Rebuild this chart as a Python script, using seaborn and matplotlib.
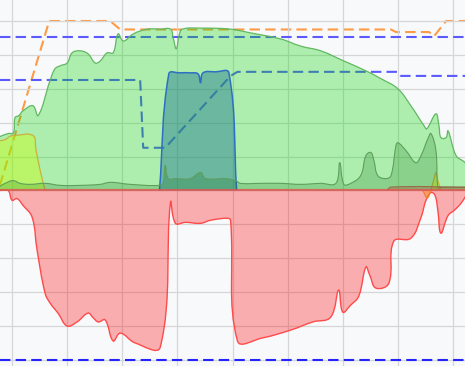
import numpy as np
import pandas as pd
import matplotlib
matplotlib.use("Agg")
import matplotlib.pyplot as plt
from matplotlib.path import Path
from matplotlib.patches import PathPatch
import seaborn as sns

# ---------------- data (hours of day, kW) ----------------
solar_t = [5.56, 5.86, 6.05, 6.11, 6.25, 6.40, 6.76, 6.95, 7.38, 7.56, 7.75, 8.00, 8.18,
           8.47, 8.76, 9.02, 9.20, 9.45, 9.67, 9.85, 10.04, 10.40, 10.91, 11.38, 11.75,
           11.85, 11.96, 12.07, 12.18, 12.84, 13.93, 14.65, 15.75, 16.47, 17.20, 18.04,
           18.84, 19.38, 20.00, 20.47, 20.95, 21.05, 21.38, 21.49, 21.56, 21.75, 21.82,
           22.11, 22.40, 22.47]
solar_v = [1.59, 1.68, 1.70, 2.15, 2.21, 2.35, 2.50, 2.21, 3.24, 3.59, 3.68, 3.76, 4.06,
           4.12, 4.03, 3.76, 3.82, 4.06, 4.06, 4.62, 4.41, 4.62, 4.76, 4.76, 4.76,
           4.50, 4.18, 4.60, 4.76, 4.79, 4.76, 4.65, 4.47, 4.26, 4.12, 3.82,
           3.53, 3.30, 3.00, 2.50, 1.91, 1.82, 2.26, 1.91, 1.56, 1.56, 1.76,
           1.03, 0.85, 0.79]

self_t = [5.56, 5.75, 6.04, 6.29, 6.65, 7.20, 7.75, 8.47, 9.20, 9.56, 10.29, 11.38, 11.49,
          11.56, 11.67, 11.93, 12.47, 12.84, 13.02, 13.75, 14.11, 14.29, 15.02, 15.75,
          16.47, 17.20, 17.75, 17.89, 18.04, 18.29, 18.65, 18.84, 19.02, 19.13, 19.27,
          19.56, 19.75, 19.93, 20.00, 20.29, 20.65, 20.84, 21.09, 21.20, 21.38, 21.45,
          21.56, 22.47]
self_v = [0.12, 0.21, 0.29, 0.21, 0.18, 0.21, 0.15, 0.15, 0.18, 0.24, 0.18, 0.15, 0.24,
          0.74, 0.35, 0.35, 0.35, 0.53, 0.35, 0.35, 0.29, 0.21, 0.21, 0.21,
          0.18, 0.21, 0.21, 0.82, 0.18, 0.21, 0.44, 1.03, 1.12, 0.88, 0.44,
          0.35, 0.44, 1.32, 1.41, 1.18, 0.82, 1.03, 1.53, 1.68, 1.18, 0.09,
          0.09, 0.09]

charge_t = [11.35, 11.69, 12.11, 12.47, 12.75, 12.84, 12.93, 13.38, 13.87, 14.15]
charge_v = [0.0, 3.44, 3.47, 3.47, 3.44, 3.18, 3.47, 3.50, 3.47, 0.0]

grid_am_t = [5.56, 5.75, 5.93, 6.04, 6.76, 6.87, 7.02, 7.20]
grid_am_v = [1.47, 1.50, 1.60, 1.62, 1.62, 1.20, 0.60, 0.0]
grid_pm_t = [21.20, 21.33, 21.38, 21.45, 21.56]
grid_pm_v = [0.0, 0.40, 0.53, 0.30, 0.0]

export_t = [19.60, 19.75, 22.47]
export_v = [0.0, 0.10, 0.10]

dis_t = [20.90, 21.07, 21.20]
dis_v = [0.0, -0.22, 0.0]

load_t = [5.56, 5.86, 6.00, 6.18, 6.40, 6.73, 6.91, 7.20, 7.38, 7.67, 8.00, 8.36, 8.76,
          8.95, 9.13, 9.38, 9.67, 9.93, 10.47, 11.38, 11.75, 11.93, 12.29, 12.84,
          13.20, 13.82, 13.93, 14.18, 15.09, 16.11, 16.91, 17.56, 17.85, 18.00, 18.29,
          18.58, 18.84, 18.98, 19.20, 19.67, 19.85, 20.47, 20.84, 21.02, 21.20, 21.35,
          21.45, 21.56, 21.82, 22.04, 22.29, 22.47]
load_v = [0.0, 0.0, -0.29, -0.24, -0.44, -0.79, -1.76, -3.03, -3.32, -3.62, -4.00, -3.88,
          -3.62, -3.76, -3.88, -3.82, -4.44, -4.21, -4.50, -4.62, -0.35, -0.97, -0.94,
          -0.97, -0.88, -0.82, -0.88, -4.44, -4.35, -4.12, -3.88, -3.74, -2.94, -3.59,
          -3.38, -3.12, -2.26, -2.50, -2.88, -2.74, -1.50, -1.41, -0.79, -0.29, -0.06,
          -0.15, -0.59, -1.26, -0.74, -0.59, -0.38, -0.15]

soc_t = [5.56, 7.35, 9.56, 9.93, 19.75, 19.93, 21.13, 21.31, 21.75, 22.47]
soc_v = [3, 100, 100, 95, 95, 93.5, 93.5, 91, 100, 100]

limit_t = [5.56, 10.65, 10.76, 11.56, 13.93, 14.18, 20.00, 20.11, 22.47]
limit_v = [3.26, 3.26, 1.26, 1.26, 3.38, 3.50, 3.50, 3.38, 3.38]

max_t = [5.56, 22.47]
max_v = [4.53, 4.53]
min_v = [-5.0, -5.0]

grid_hours = [6, 8, 10, 12, 14, 16, 18, 20, 22]
grid_kw = [-5, -4, -3, -2, -1, 0, 1, 2, 3, 4, 5]

# ---------------- figure ----------------
sns.set_theme(style="whitegrid")
bg = "#f8f9fb"
fig = plt.figure(figsize=(4.65, 3.66), dpi=100)
fig.patch.set_facecolor(bg)
ax = fig.add_axes([0, 0, 1, 1])
ax.set_facecolor(bg)
ax.set_xlim(5.565, 22.435)
ax.set_ylim(-5.18, 5.62)
ax.set_xticks(grid_hours)
ax.set_yticks(grid_kw)
ax.tick_params(length=0, labelbottom=False, labelleft=False)
ax.grid(True, color="#d6d6d6", lw=0.9)
ax.set_axisbelow(True)
for s in ax.spines.values():
    s.set_visible(False)

dash = (5, 2.5)

# dashed reference lines first (the fills are drawn over them)
sns.lineplot(x=max_t, y=max_v, ax=ax, color="#5a5aff", lw=1.5,
             estimator=None, zorder=1.5).lines[-1].set_dashes(dash)
sns.lineplot(x=max_t, y=min_v, ax=ax, color="#2424ff", lw=1.5,
             estimator=None, zorder=1.5).lines[-1].set_dashes(dash)
sns.lineplot(x=limit_t, y=limit_v, ax=ax, color="#5a5aff", lw=1.5,
             estimator=None, zorder=1.5, sort=False).lines[-1].set_dashes(dash)

# battery state of charge on a percent axis (100 % = 5 kW grid line)
ax2 = ax.twinx()
ax2.set_position(ax.get_position())
ax2.set_ylim(-5.18 * 20, 5.62 * 20)
ax2.set_axis_off()
ax2.set_zorder(0)
ax.set_zorder(1)
ax.patch.set_visible(False)
sns.lineplot(x=soc_t, y=soc_v, ax=ax2, color="#ff9a45", lw=1.5,
             estimator=None, sort=False).lines[-1].set_dashes(dash)
ax2.set_xlim(ax.get_xlim())

TENSION = 0.4


def smooth_path(t, v):
    """Chart.js-style spline through the data points (control points only)."""
    pts = ax.transData.transform(np.column_stack([t, v]))
    n = len(pts)
    cp_in = np.zeros_like(pts)
    cp_out = np.zeros_like(pts)
    for i in range(n):
        prev = pts[max(i - 1, 0)]
        cur = pts[i]
        nxt = pts[min(i + 1, n - 1)]
        d01 = np.hypot(*(cur - prev))
        d12 = np.hypot(*(nxt - cur))
        tot = d01 + d12
        s01 = d01 / tot if tot > 0 else 0
        s12 = d12 / tot if tot > 0 else 0
        cp_in[i] = cur - TENSION * s01 * (nxt - prev)
        cp_out[i] = cur + TENSION * s12 * (nxt - prev)
    verts = [pts[0]]
    codes = [Path.MOVETO]
    for i in range(n - 1):
        verts += [cp_out[i], cp_in[i + 1], pts[i + 1]]
        codes += [Path.CURVE4] * 3
    verts = ax.transData.inverted().transform(np.array(verts))
    return verts, codes


def area(t, v, fill, alpha, edge, lw, z):
    verts, codes = smooth_path(t, v)
    fv = np.vstack([[t[0], 0.0], verts, [t[-1], 0.0], [t[0], 0.0]])
    fc = [Path.MOVETO, Path.LINETO] + codes[1:] + [Path.LINETO, Path.CLOSEPOLY]
    ax.add_patch(PathPatch(Path(fv, fc), facecolor=fill, alpha=alpha, lw=0,
                           zorder=z, transform=ax.transData))
    ax.add_patch(PathPatch(Path(verts, codes), facecolor="none", edgecolor=edge,
                           lw=lw, zorder=z + 0.05, transform=ax.transData))


area(load_t, load_v, "#ff0000", 0.30, "#ff4a4a", 1.0, 2)
area(solar_t, solar_v, "#00d700", 0.30, "#62b862", 0.9, 2.2)
area(charge_t, charge_v, "#2a8190", 0.5, "#2e6fc4", 1.1, 2.4)
area(grid_am_t, grid_am_v, "#ccff00", 0.40, "#c9b13c", 0.9, 2.6)
area(grid_pm_t, grid_pm_v, "#ccff00", 0.40, "#c9b13c", 0.9, 2.6)
area(self_t, self_v, "#006400", 0.20, "#5e9e5e", 0.8, 2.8)
area(export_t, export_v, "#a0522d", 0.35, "#9a6a4a", 0.8, 2.9)
area(dis_t, dis_v, "#ff8c1a", 0.5, "#f08030", 0.8, 2.9)
ax.axhline(0, color="#e05555", lw=1.6, alpha=0.8, zorder=3)

fig.savefig("out.png", dpi=100, facecolor=bg)
